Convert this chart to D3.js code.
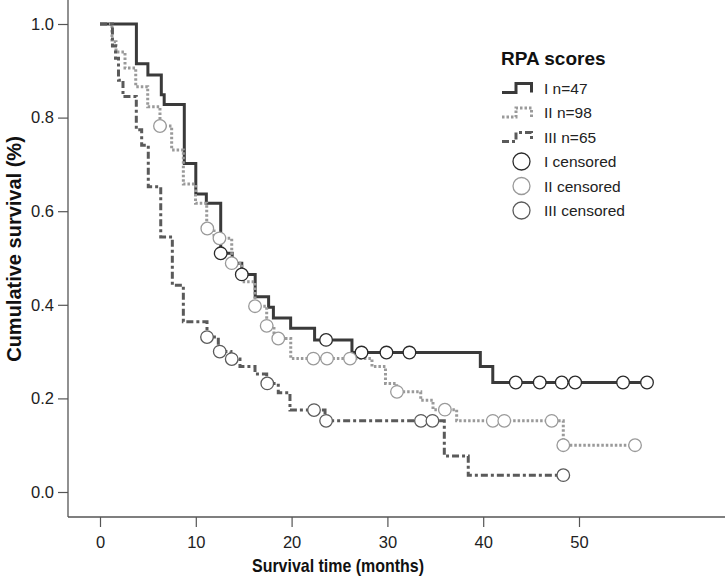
<!DOCTYPE html>
<html>
<head>
<meta charset="utf-8">
<script src="https://cdn.jsdelivr.net/npm/d3@7"></script>
<style>
  html, body { margin: 0; padding: 0; background: #fff; }
  svg text { font-family: "Liberation Sans", Arial, sans-serif; }
</style>
</head>
<body>
<svg id="chart" width="725" height="577"></svg>
<script>
// ---- Data ----
const groups = ["I n=47", "II n=98", "III n=65"];
const censorLabels = ["I censored", "II censored", "III censored"];
const xTicks = [0, 10, 20, 30, 40, 50];
const yTicks = [0.0, 0.2, 0.4, 0.6, 0.8, 1.0];

const timesI = [0, 3.8, 5.0, 6.4, 6.7, 8.8, 10.0, 11.1, 12.6, 13.8, 14.8, 16.2, 17.6, 18.1, 19.9, 22.4, 26.3, 39.7, 41.0, 57.1];
const survI  = [1.0, 0.915, 0.891, 0.849, 0.828, 0.702, 0.637, 0.617, 0.510, 0.489, 0.465, 0.417, 0.395, 0.372, 0.350, 0.325, 0.298, 0.268, 0.234, 0.234];
const censTimesI = [12.6, 14.8, 23.6, 27.3, 29.9, 32.3, 43.4, 45.9, 48.2, 49.6, 54.6, 57.1];
const censSurvI  = [0.510, 0.465, 0.325, 0.298, 0.298, 0.298, 0.234, 0.234, 0.234, 0.234, 0.234, 0.234];

const timesII = [0, 1.25, 1.67, 2.61, 3.73, 4.98, 6.26, 7.48, 8.70, 9.97, 11.14, 11.9, 13.75, 14.79, 16.18, 17.40, 18.16, 19.91, 28.39, 29.80, 30.97, 33.48, 34.76, 37.23, 48.36, 55.85];
const survII  = [1.0, 0.962, 0.940, 0.906, 0.866, 0.823, 0.782, 0.731, 0.658, 0.617, 0.563, 0.542, 0.489, 0.449, 0.397, 0.355, 0.328, 0.285, 0.268, 0.232, 0.214, 0.196, 0.176, 0.152, 0.100, 0.100];
const censTimesII = [6.26, 11.2, 12.47, 13.75, 16.18, 17.4, 18.61, 22.27, 23.7, 26.1, 31.0, 36.0, 41.0, 42.2, 47.15, 48.36, 55.85];
const censSurvII  = [0.782, 0.563, 0.542, 0.489, 0.397, 0.355, 0.328, 0.285, 0.285, 0.285, 0.214, 0.176, 0.152, 0.152, 0.152, 0.100, 0.100];

const timesIII = [0, 1.30, 1.62, 1.93, 2.40, 3.79, 4.35, 5.04, 6.34, 7.55, 8.70, 11.17, 12.35, 13.67, 14.61, 16.18, 17.40, 18.61, 19.83, 23.49, 35.94, 38.44, 48.36];
const survIII  = [1.0, 0.953, 0.927, 0.880, 0.845, 0.774, 0.741, 0.652, 0.545, 0.442, 0.364, 0.331, 0.300, 0.284, 0.268, 0.252, 0.232, 0.212, 0.175, 0.152, 0.077, 0.036, 0.036];
const censTimesIII = [11.17, 12.5, 13.75, 17.46, 22.34, 23.6, 33.5, 34.7, 48.36];
const censSurvIII  = [0.331, 0.300, 0.284, 0.232, 0.175, 0.152, 0.152, 0.152, 0.036];

// ---- Styles ----
const lineColors = ["#3a3a3a", "#9a9a9a", "#5a5a5a"];
const circleColors = ["#2a2a2a", "#9a9a9a", "#5a5a5a"];
const dashes = [null, "2.5,2", "7,3,3,3"];

const series = [
  {t: timesI, s: survI, ct: censTimesI, cs: censSurvI},
  {t: timesII, s: survII, ct: censTimesII, cs: censSurvII},
  {t: timesIII, s: survIII, ct: censTimesIII, cs: censSurvIII}
];

const svg = d3.select("#chart");
const x = d3.scaleLinear().domain([0, 50]).range([100, 579]);
const y = d3.scaleLinear().domain([0, 1]).range([492, 24]);

const axisColor = "#555";

// Frame lines (left & bottom)
svg.append("line").attr("x1", 68).attr("x2", 68).attr("y1", 0).attr("y2", 517)
  .attr("stroke", axisColor).attr("stroke-width", 1.3);
svg.append("line").attr("x1", 68).attr("x2", 725).attr("y1", 517).attr("y2", 517)
  .attr("stroke", axisColor).attr("stroke-width", 1.3);

// Y axis
const yAxis = svg.append("g").attr("transform", "translate(68,0)")
  .call(d3.axisLeft(y).tickValues(yTicks).tickFormat(d3.format(".1f")).tickSize(10).tickPadding(4));
yAxis.select(".domain").remove();
yAxis.selectAll(".tick line").attr("stroke", axisColor).attr("stroke-width", 1.2);
yAxis.selectAll(".tick text").attr("font-size", 16.5).attr("fill", "#222")
  .style("font-family", "'Liberation Sans', Arial, sans-serif");

// X axis
const xAxis = svg.append("g").attr("transform", "translate(0,517)")
  .call(d3.axisBottom(x).tickValues(xTicks).tickFormat(d3.format("d")).tickSize(10).tickPadding(9));
xAxis.select(".domain").remove();
xAxis.selectAll(".tick line").attr("stroke", axisColor).attr("stroke-width", 1.2);
xAxis.selectAll(".tick text").attr("font-size", 16.5).attr("fill", "#222")
  .style("font-family", "'Liberation Sans', Arial, sans-serif");

// Axis titles
svg.append("text").attr("x", 338).attr("y", 572).attr("text-anchor", "middle")
  .attr("font-size", 19).attr("font-weight", "bold").attr("fill", "#111")
  .attr("textLength", 172).attr("lengthAdjust", "spacingAndGlyphs")
  .text("Survival time (months)");
svg.append("text").attr("transform", "translate(21,249) rotate(-90)").attr("text-anchor", "middle")
  .attr("font-size", 20).attr("font-weight", "bold").attr("fill", "#111")
  .text("Cumulative survival (%)");

// Curves
const line = d3.line().x(d => x(d[0])).y(d => y(d[1])).curve(d3.curveStepAfter);
series.forEach((sr, i) => {
  const pts = sr.t.map((t, k) => [t, sr.s[k]]);
  const p = svg.append("path").datum(pts).attr("d", line)
    .attr("fill", "none").attr("stroke", lineColors[i]).attr("stroke-width", 3);
  if (dashes[i]) p.attr("stroke-dasharray", dashes[i]);
});

// Censor circles
series.forEach((sr, i) => {
  svg.append("g").selectAll("circle").data(sr.ct.map((t, k) => [t, sr.cs[k]])).join("circle")
    .attr("cx", d => x(d[0])).attr("cy", d => y(d[1])).attr("r", 6.3)
    .attr("fill", "#fff").attr("stroke", circleColors[i]).attr("stroke-width", 1.3);
});

// Legend
const lg = svg.append("g");
lg.append("text").attr("x", 501).attr("y", 65).attr("font-size", 19).attr("font-weight", "bold")
  .attr("fill", "#111").text("RPA scores");
const rowY = [88, 112.5, 137, 161.5, 186, 210.5];
groups.forEach((g, i) => {
  const cy = rowY[i];
  const pathD = `M502,${cy + 4.5}H516V${cy - 4.5}H531.5V${cy + 4.5}`;
  const p = lg.append("path").attr("d", pathD).attr("fill", "none")
    .attr("stroke", lineColors[i]).attr("stroke-width", 3);
  if (dashes[i]) p.attr("stroke-dasharray", dashes[i]);
  lg.append("text").attr("x", 544).attr("y", cy + 5.5).attr("font-size", 15.5).attr("fill", "#222").text(g);
});
censorLabels.forEach((c, i) => {
  const cy = rowY[i + 3];
  lg.append("circle").attr("cx", 521.5).attr("cy", cy).attr("r", 8.5)
    .attr("fill", "#fff").attr("stroke", circleColors[i]).attr("stroke-width", 1.3);
  lg.append("text").attr("x", 544).attr("y", cy + 5.5).attr("font-size", 15.5).attr("fill", "#222").text(c);
});
</script>
</body>
</html>
